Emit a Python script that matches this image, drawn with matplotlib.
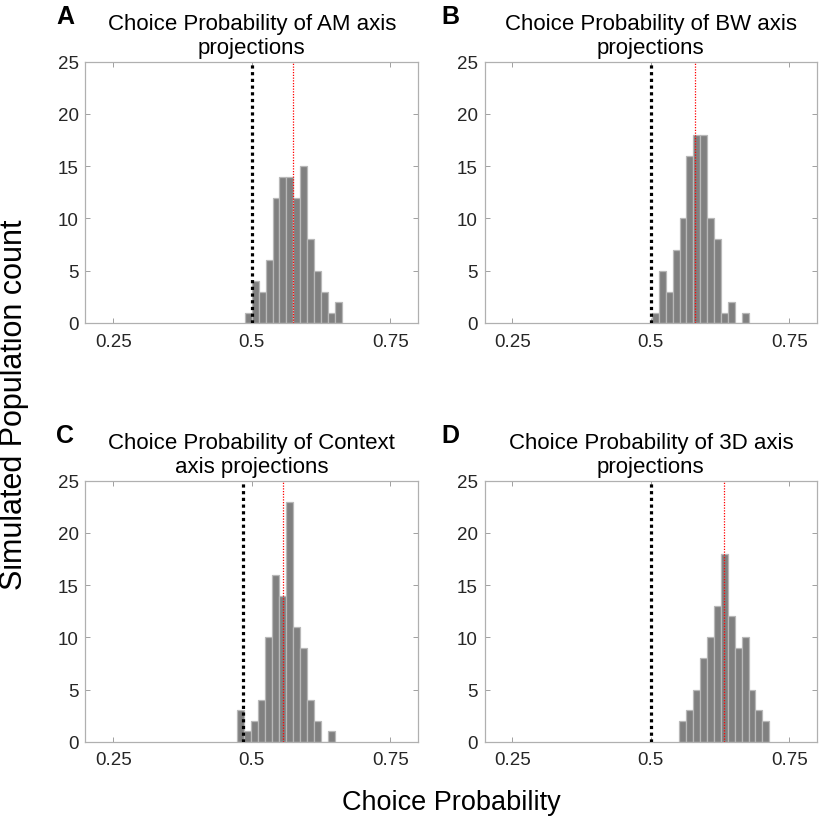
import matplotlib

matplotlib.use("Agg")
import matplotlib.pyplot as plt
import numpy as np

plt.rcParams["font.family"] = ["Liberation Sans", "DejaVu Sans"]

# --- data ------------------------------------------------------------------------------
panel_letters = ["A", "B", "C", "D"]
panel_titles = [
    "Choice Probability of AM axis\nprojections",
    "Choice Probability of BW axis\nprojections",
    "Choice Probability of Context\naxis projections",
    "Choice Probability of 3D axis\nprojections",
]
bin_start = [0.4875, 0.5018, 0.4733, 0.5510]
bin_width = [0.0125, 0.0125, 0.01264, 0.01254]
counts_am = [1, 4, 3, 6, 12, 14, 14, 12, 15, 8, 5, 3, 1, 2]
counts_bw = [1, 5, 3, 7, 10, 16, 18, 18, 10, 8, 1, 2, 0, 1]
counts_ctx = [3, 1, 2, 4, 10, 16, 14, 23, 11, 9, 4, 2, 0, 1]
counts_3d = [2, 3, 5, 8, 10, 13, 18, 12, 9, 10, 5, 3, 2]
chance_line = [0.5, 0.5, 0.485, 0.5]
observed_cp = [0.5736, 0.5805, 0.556, 0.6323]
xticks = [0.25, 0.5, 0.75]
xticklabels = ["0.25", "0.5", "0.75"]
yticks = [0, 5, 10, 15, 20, 25]

all_counts = [counts_am, counts_bw, counts_ctx, counts_3d]

W, H = 820, 829
fig = plt.figure(figsize=(W / 100, H / 100), dpi=100)

# axes boxes in pixels: left, top, right, bottom
boxes = [
    (85.5, 62.7, 418, 324),
    (484.7, 62.7, 817, 324),
    (85.5, 481.7, 418, 742.7),
    (484.7, 481.7, 817, 742.7),
]
letter_x = [65, 450, 65, 450]

axis_grey = "#b0b0b0"
for i, (l, t, r, b) in enumerate(boxes):
    ax = fig.add_axes([l / W, 1 - b / H, (r - l) / W, (b - t) / H])
    counts = all_counts[i]
    edges = bin_start[i] + bin_width[i] * np.arange(len(counts))
    ax.bar(edges, counts, width=bin_width[i], align="edge", color="#808080",
           edgecolor="#b8b8b8", linewidth=0.9, zorder=2)
    ax.plot([chance_line[i]] * 2, [0, 25], color="black", lw=2.3,
            linestyle=(0, (1, 1.1)), zorder=3)
    ax.plot([observed_cp[i]] * 2, [0, 25], color="red", lw=0.9,
            linestyle=(0, (1, 1.2)), zorder=4)
    ax.set_xlim(0.2, 0.8)
    ax.set_ylim(0, 25)
    ax.set_xticks(xticks)
    ax.set_xticklabels(xticklabels)
    ax.set_yticks(yticks)
    ax.tick_params(direction="in", length=3.5, width=0.6, color="#909090",
                   labelsize=13.5, labelcolor="#262626", top=True, right=True)
    ax.tick_params(axis="x", pad=7)
    ax.tick_params(axis="y", pad=5)
    for s in ax.spines.values():
        s.set_color(axis_grey)
        s.set_linewidth(0.9)
    ax.set_title(panel_titles[i], fontsize=16, pad=6, linespacing=1.2)
    fig.text(letter_x[i] / W, 1 - (t - 45.7) / H, panel_letters[i], fontsize=18,
             fontweight="bold", ha="center", va="center")

fig.text(451 / W, 1 - 803 / H, "Choice Probability", fontsize=19.5,
         ha="center", va="center")
fig.text(14 / W, 1 - 405 / H, "Simulated Population count", fontsize=22,
         rotation=90, ha="center", va="center")

fig.savefig("out.png", dpi=100)
